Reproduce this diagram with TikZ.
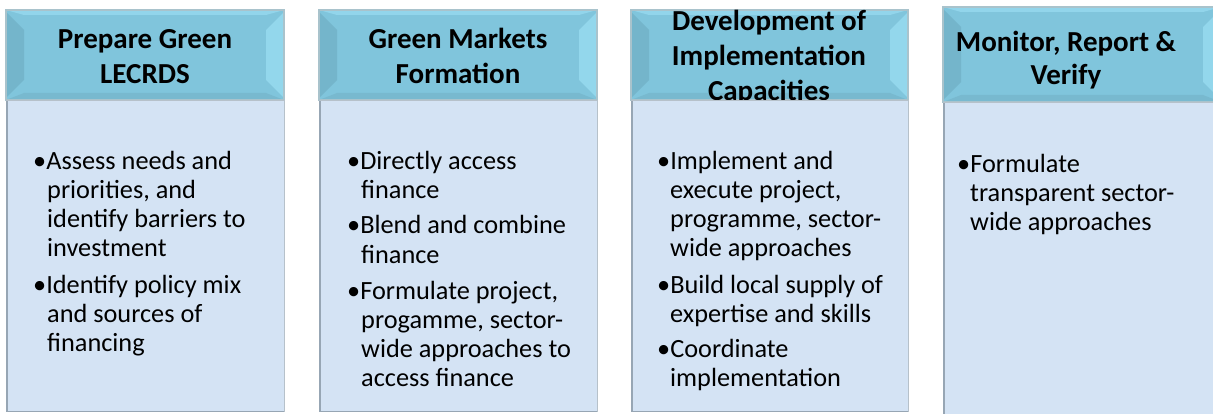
\documentclass[tikz,border=0pt]{standalone}
\usepackage{fontspec}
\setmainfont{Carlito}
\definecolor{hface}{HTML}{80C5DC}
\definecolor{hleft}{HTML}{74B5CB}
\definecolor{hright}{HTML}{93D7EC}
\definecolor{htop}{HTML}{92D5EB}
\definecolor{hbot}{HTML}{78B9CF}
\definecolor{hedge}{HTML}{A9C3CC}
\definecolor{bfill}{HTML}{D4E3F4}
\definecolor{bedge}{HTML}{97A6B4}
\newcommand\hdr[5]{% name, x0, y0, x1, y1
  \fill[hface] (#2,#3) rectangle (#4,#5);
  \fill[htop] (#2,#3) -- (#4,#3) -- ({#4-18},{#3+5}) -- ({#2+18},{#3+5}) -- cycle;
  \fill[hbot] (#2,#5) -- (#4,#5) -- ({#4-18},{#5-7}) -- ({#2+18},{#5-7}) -- cycle;
  \fill[hleft] (#2,{#3+2}) -- ({#2+18},{#3+20}) -- ({#2+18},{#5-20}) -- (#2,{#5-2}) -- cycle;
  \fill[hright] (#4,{#3+2}) -- ({#4-18},{#3+20}) -- ({#4-18},{#5-20}) -- (#4,{#5-2}) -- cycle;
  \draw[hedge, line width=1.2] (#2,#3) rectangle (#4,#5);
  \coordinate (#1) at (#2,#3);}
\newcommand\bdy[5]{%
  \fill[bfill] (#2,#3) rectangle (#4,#5);
  \draw[white!70!bfill, line width=1] ({#2+2.5},{#3+1}) -- (#4,{#3+1});
  \draw[bedge, line width=1.5] ({#2+0.75},{#3}) -- ({#2+0.75},{#5-0.75}) -- (#4,{#5-0.75});
  \draw[bedge!70!white, line width=0.8] (#2,#3) -- (#4,#3) -- (#4,#5);
  \coordinate (#1) at (#2,#3);}
\newcommand\hl[4]{\node[htxt] (#1) at (#2,#3) {#4};}
\newcommand\bl[4]{\node[btxt] (#1) at (#2,#3) {#4};}
\tikzset{
  htxt/.style={anchor=base, inner sep=0pt, font=\fontsize{29}{35}\selectfont\bfseries},
  btxt/.style={anchor=base west, inner sep=0pt, font=\fontsize{26.3}{29}\selectfont}
}
\begin{document}
\begin{tikzpicture}[x=1pt,y=-1pt]
\useasboundingbox (0,0) rectangle (1213,414);
% column 1
\hdr{h1}{6}{10}{284}{100}
\hl{h1a}{145}{49}{Prepare Green}
\hl{h1b}{145}{84}{LECRDS}
\bdy{b1}{6}{100}{284}{412}
% column 2
\hdr{h2}{319}{10}{597}{100}
\hl{h2a}{458}{49}{Green Markets}
\hl{h2b}{458}{84}{Formation}
\bdy{b2}{319}{100}{597}{412}
% column 3
\hdr{h3}{631}{10}{908}{100}
\hl{h3a}{769}{31}{Development of}
\hl{h3b}{769}{66}{Implementation}
\hl{h3c}{769}{101}{Capacities}
\bdy{b3}{631}{100}{908}{412}
% column 4
\hdr{h4}{943}{7}{1221}{102}
\hl{h4a}{1066}{52}{Monitor, Report \&}
\hl{h4b}{1066}{85}{Verify}
\bdy{b4}{943}{102}{1221}{416}
% body text column 1
\bl{t11}{33}{170}{•Assess needs and}
\bl{t12}{47}{199}{priorities, and}
\bl{t13}{47}{228}{identify barriers to}
\bl{t14}{47}{257}{investment}
\bl{t15}{33}{293}{•Identify policy mix}
\bl{t16}{47}{322}{and sources of}
\bl{t17}{47}{351}{financing}
% column 2
\bl{t21}{347}{170}{•Directly access}
\bl{t22}{361}{199}{finance}
\bl{t23}{347}{234}{•Blend and combine}
\bl{t24}{361}{263}{finance}
\bl{t25}{347}{299}{•Formulate project,}
\bl{t26}{361}{328}{progamme, sector-}
\bl{t27}{361}{357}{wide approaches to}
\bl{t28}{361}{386}{access finance}
% column 3
\bl{t31}{657}{170}{•Implement and}
\bl{t32}{670}{199}{execute project,}
\bl{t33}{670}{228}{programme, sector-}
\bl{t34}{670}{257}{wide approaches}
\bl{t35}{657}{293}{•Build local supply of}
\bl{t36}{670}{322}{expertise and skills}
\bl{t37}{657}{357}{•Coordinate}
\bl{t38}{670}{386}{implementation}
% column 4
\bl{t41}{957}{173}{•Formulate}
\bl{t42}{970}{202}{transparent sector-}
\bl{t43}{970}{231}{wide approaches}
\end{tikzpicture}
\end{document}
